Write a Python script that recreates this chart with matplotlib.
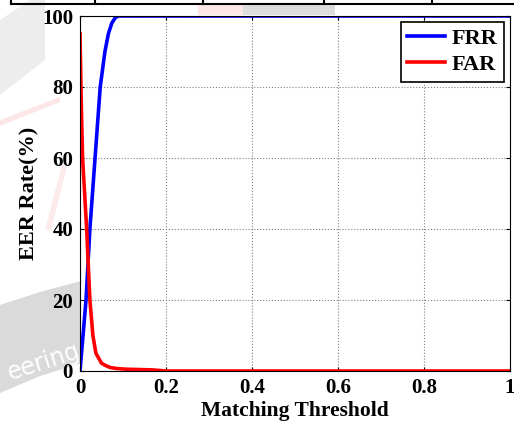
import numpy as np
import matplotlib.pyplot as plt
from matplotlib.patches import Polygon, Rectangle
from matplotlib.lines import Line2D

# Curve values
frr_x = [0.0, 0.007, 0.014, 0.023, 0.035, 0.047, 0.058, 0.066, 0.074, 0.082, 0.089, 0.2, 0.4, 0.6, 0.8, 1.0]
frr_y = [0.0, 10.0, 20.0, 40.0, 60.0, 80.0, 90.0, 95.0, 98.0, 99.5, 100.0, 100.0, 100.0, 100.0, 100.0, 100.0]

far_x = [0.0, 0.003, 0.006, 0.0155, 0.023, 0.03, 0.037, 0.05, 0.06, 0.07, 0.085, 0.108, 0.14, 0.17, 0.2, 0.4, 0.6, 0.8, 1.0]
far_y = [95.0, 75.0, 60.0, 40.0, 20.0, 10.0, 5.0, 2.2, 1.5, 1.0, 0.7, 0.5, 0.4, 0.3, 0.0, 0.0, 0.0, 0.0, 0.0]

x_ticks = [0, 0.2, 0.4, 0.6, 0.8, 1]
x_labels = ["0", "0.2", "0.4", "0.6", "0.8", "1"]
y_ticks = [0, 20, 40, 60, 80, 100]

plt.rcParams['font.family'] = ['Liberation Serif', 'DejaVu Serif']
plt.rcParams['font.weight'] = 'bold'

fig = plt.figure(figsize=(5.14, 4.25), dpi=100)

# faint watermark remnants behind the plot (pixel coords, y measured from the top)
wm = fig.add_axes([0, 0, 1, 1], zorder=-1)
wm.set_xlim(0, 514)
wm.set_ylim(425, 0)
wm.axis("off")
wm.add_patch(Polygon([(0, 305), (40, 292), (85, 280), (85, 362), (40, 376), (0, 393)],
                     closed=True, color="#dadada", lw=0))
wm.add_patch(Polygon([(0, 20), (30, 0), (45, 0), (45, 60), (0, 95)], closed=True, color="#ededed", lw=0))
wm.add_patch(Polygon([(0, 120), (60, 97), (60, 102), (0, 126)], closed=True, color="#fde6e6", lw=0))
wm.add_patch(Polygon([(45, 230), (62, 165), (67, 167), (51, 230)], closed=True, color="#fdeaea", lw=0))
wm.add_patch(Rectangle((198, 5), 45, 10, color="#fde6e6", lw=0))
wm.add_patch(Rectangle((243, 5), 92, 10, color="#dddddd", lw=0))
wm.text(4, 362, "eering", color="white", fontsize=17, rotation=18,
        fontweight="normal", family="DejaVu Sans", ha="left", va="center")
# table border at the very top
wm.add_line(Line2D([11, 514], [4, 4], color="black", lw=1.5))
for vx in [11, 95, 203, 324, 432]:
    wm.add_line(Line2D([vx, vx], [0, 4], color="black", lw=1.5))

ax = fig.add_axes([80 / 514, 54 / 425, 430 / 514, 355 / 425])
ax.plot(frr_x, frr_y, color="#0000ff", lw=2.6, label="FRR")
ax.plot(far_x, far_y, color="#ff0000", lw=2.6, label="FAR")

ax.set_xlim(0, 1)
ax.set_ylim(0, 100)
ax.set_xticks(x_ticks)
ax.set_xticklabels(x_labels)
ax.set_yticks(y_ticks)
ax.tick_params(direction="in", top=True, right=True, labelsize=15, length=3, pad=5)
for lab in ax.get_xticklabels() + ax.get_yticklabels():
    lab.set_fontweight("bold")
ax.grid(True, color="gray", linestyle=":", linewidth=0.8)
for s in ax.spines.values():
    s.set_linewidth(0.8)

ax.set_xlabel("Matching Threshold", fontsize=15.5, fontweight="bold", labelpad=2)
ax.set_ylabel("EER Rate(%)", fontsize=16, fontweight="bold", labelpad=2)

leg = ax.legend(loc="upper right", fontsize=16, fancybox=False, framealpha=1,
                edgecolor="black", handlelength=1.7, borderpad=0.3,
                labelspacing=0.25, handletextpad=0.3, borderaxespad=0.25)
leg.get_frame().set_linewidth(1.2)
for t in leg.get_texts():
    t.set_fontweight("bold")

fig.savefig("out.png", dpi=100)
